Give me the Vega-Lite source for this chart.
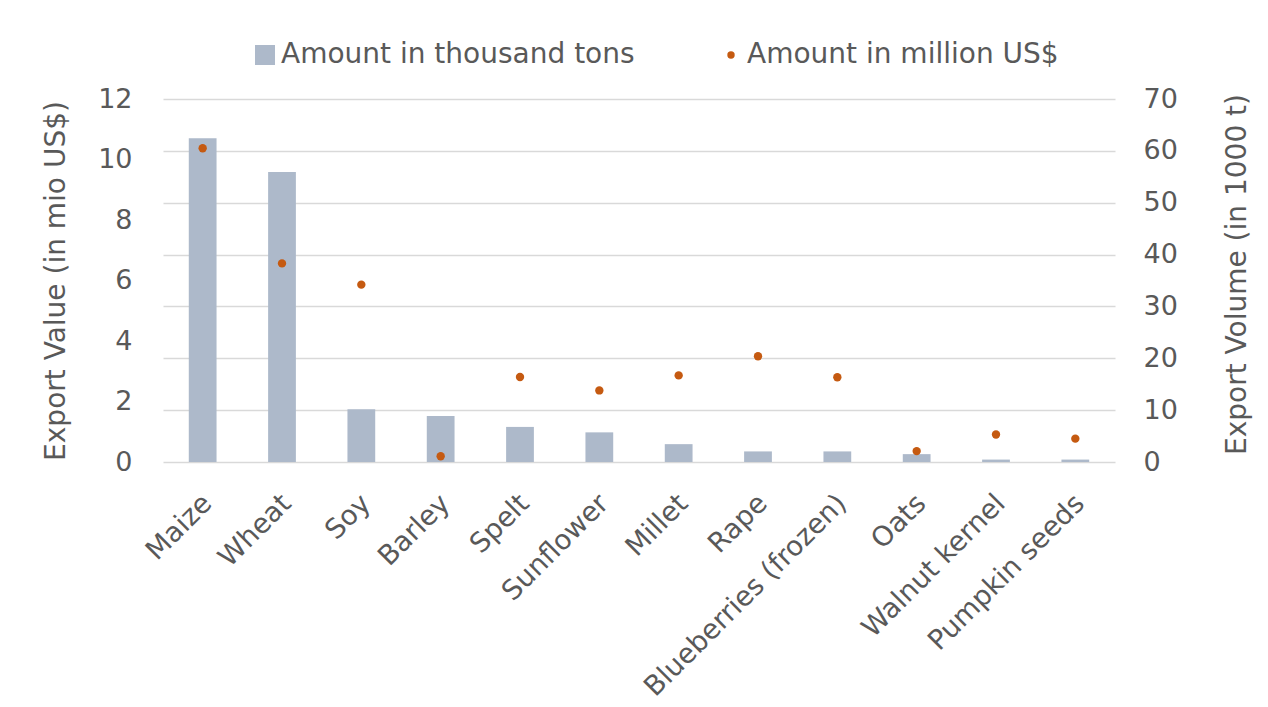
{
  "$schema": "https://vega.github.io/schema/vega-lite/v6.json",
  "width": 952,
  "height": 363,
  "autosize": "none",
  "padding": {"left": 163, "top": 99, "right": 153, "bottom": 245},
  "background": "white",
  "config": {
    "view": {"stroke": null},
    "font": "DejaVu Sans",
    "axis": {"labelColor": "#595959", "titleColor": "#595959", "labelFont": "DejaVu Sans", "titleFont": "DejaVu Sans", "titleFontWeight": "normal"},
    "legend": {"labelFont": "DejaVu Sans"}
  },
  "data": {
    "values": [
      {"crop": "Maize", "tons": 10.7, "usd": 60.5},
      {"crop": "Wheat", "tons": 9.59, "usd": 38.3},
      {"crop": "Soy", "tons": 1.74, "usd": 34.2},
      {"crop": "Barley", "tons": 1.52, "usd": 1.1},
      {"crop": "Spelt", "tons": 1.16, "usd": 16.4},
      {"crop": "Sunflower", "tons": 0.98, "usd": 13.8},
      {"crop": "Millet", "tons": 0.59, "usd": 16.7},
      {"crop": "Rape", "tons": 0.35, "usd": 20.4},
      {"crop": "Blueberries (frozen)", "tons": 0.35, "usd": 16.35},
      {"crop": "Oats", "tons": 0.26, "usd": 2.1},
      {"crop": "Walnut kernel", "tons": 0.08, "usd": 5.3},
      {"crop": "Pumpkin seeds", "tons": 0.08, "usd": 4.5}
    ]
  },
  "encoding": {
    "x": {
      "field": "crop",
      "type": "nominal",
      "sort": null,
      "scale": {"paddingInner": 0.65, "paddingOuter": 0.325},
      "axis": {
        "title": null,
        "labelAngle": -45,
        "labelAlign": "right",
        "labelBaseline": "middle",
        "labelFontSize": 27.5,
        "labelPadding": 37,
        "labelOffset": 5,
        "ticks": false,
        "domain": false,
        "grid": false,
        "labelLimit": 500
      }
    }
  },
  "layer": [
    {
      "mark": {"type": "bar", "color": "#adb9ca"},
      "encoding": {
        "y": {
          "field": "tons",
          "type": "quantitative",
          "scale": {"domain": [0, 12]},
          "axis": {
            "title": "Export Value (in mio US$)",
            "titleFontSize": 28,
            "titlePadding": 27,
            "values": [0, 2, 4, 6, 8, 10, 12],
            "labelFontSize": 27,
            "labelPadding": 31,
            "ticks": false,
            "domain": false,
            "grid": false
          }
        },
        "color": {
          "datum": "Amount in thousand tons",
          "type": "nominal",
          "scale": {"domain": ["Amount in thousand tons", "Amount in million US$"], "range": ["#adb9ca", "#c55a11"]},
          "legend": {
            "title": null,
            "orient": "none",
            "direction": "horizontal",
            "legendX": 88,
            "legendY": -58,
            "labelFontSize": 28,
            "labelLimit": 1000,
            "labelColor": "#595959",
            "columnPadding": 82,
            "symbolOffset": 0,
            "labelOffset": 2,
            "encode": {
              "symbols": {
                "update": {
                  "shape": {"signal": "datum.value === 'Amount in thousand tons' ? 'square' : 'circle'"},
                  "size": {"signal": "datum.value === 'Amount in thousand tons' ? 400 : 55"},
                  "strokeWidth": {"value": 0}
                }
              }
            }
          }
        }
      }
    },
    {
      "mark": {"type": "point", "filled": true, "size": 70, "opacity": 1},
      "encoding": {
        "y": {
          "field": "usd",
          "type": "quantitative",
          "scale": {"domain": [0, 70]},
          "axis": {
            "orient": "right",
            "title": "Export Volume (in 1000 t)",
            "titleAngle": 270,
            "titleFontSize": 28,
            "titlePadding": 74,
            "titleY": 175,
            "values": [0, 10, 20, 30, 40, 50, 60, 70],
            "labelFontSize": 27,
            "labelPadding": 28,
            "ticks": false,
            "domain": false,
            "grid": true,
            "gridColor": "#d9d9d9",
            "gridWidth": 1.5
          }
        },
        "color": {"datum": "Amount in million US$", "type": "nominal"}
      }
    }
  ],
  "resolve": {"scale": {"y": "independent"}}
}
